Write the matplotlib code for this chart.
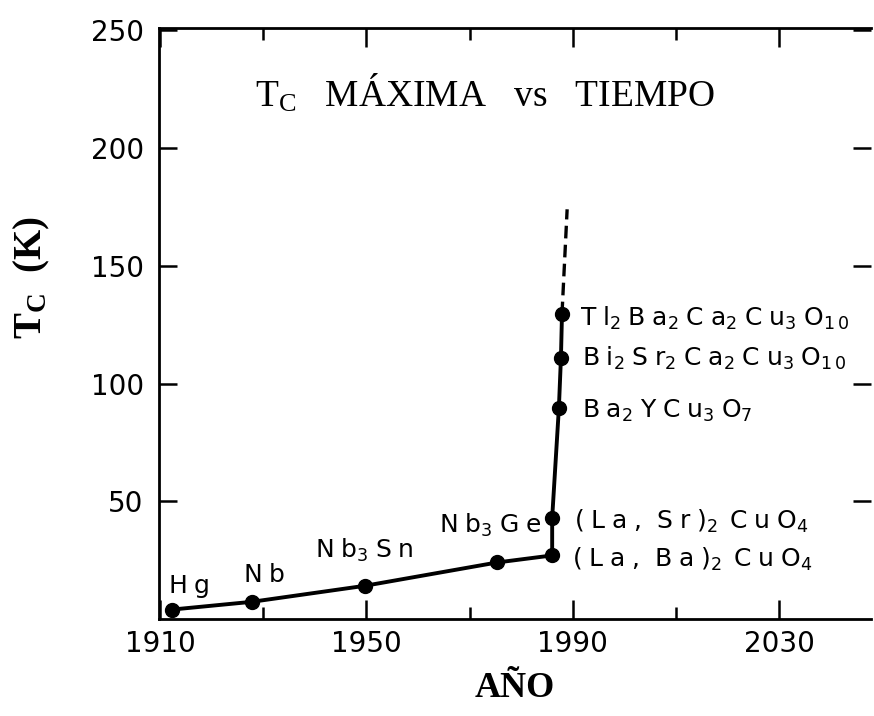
import matplotlib
matplotlib.use("Agg")
import matplotlib.pyplot as plt
from matplotlib.ticker import FixedLocator

plt.rcParams["mathtext.fontset"] = "custom"
plt.rcParams["mathtext.rm"] = "Liberation Serif"
plt.rcParams["mathtext.bf"] = "Liberation Serif:bold"
plt.rcParams["mathtext.sf"] = "DejaVu Sans"

# record critical temperature per year of discovery
years = [1912.3, 1927.8, 1949.7, 1975.3, 1986.0, 1986.0, 1987.3, 1987.7, 1987.9]
tc = [4.0, 7.3, 14.1, 24.0, 27.0, 43.0, 89.6, 111.0, 129.4]
materials = [
    "Hg",
    "Nb",
    "Nb_3Sn",
    "Nb_3Ge",
    "(La, Ba)_2 CuO_4",
    "(La, Sr)_2 CuO_4",
    "Ba_2YCu_3O_7",
    "Bi_2Sr_2Ca_2Cu_3O_{10}",
    "Tl_2Ba_2Ca_2Cu_3O_{10}",
]

# dashed extrapolation above the last point
trend_years = [1987.9, 1988.9]
trend_tc = [129.4, 174.0]

x_major = [1910, 1950, 1990, 2030]
x_minor = [1930, 1970, 2010]
y_major = [50, 100, 150, 200, 250]

# label offsets from each point, in pixels
label_offsets = [(-4, 17), (-9, 20), (-50, 28), (-58, 30), (20, -11),
                 (22, -11), (23, -10), (21, -8), (18, -11)]


def spaced(label):
    """Turn 'Nb_3Sn' into widely lettered sans mathtext."""
    tokens = []
    i = 0
    while i < len(label):
        ch = label[i]
        if ch == "_":
            if label[i + 1] == "{":
                j = label.index("}", i)
                sub = label[i + 2:j]
                i = j + 1
            else:
                sub = label[i + 1]
                i += 2
            tokens[-1] += "_{" + r"\,".join(sub) + "}"
            continue
        if ch == " ":
            tokens[-1] += r"\,"
        else:
            tokens.append(ch)
        i += 1
    return r"$\mathsf{" + r"\;".join(tokens) + "}$"


W, H = 874, 716
fig = plt.figure(figsize=(W / 100, H / 100), dpi=100)
left, right, bottom, top = 159, 871, 619, 28
ax = fig.add_axes([left / W, 1 - bottom / H, (right - left) / W, (bottom - top) / H])

ax.plot(years, tc, "-", color="black", lw=2.8, marker="o", ms=10, zorder=3)
ax.plot(trend_years, trend_tc, color="black", lw=2.4, linestyle=(0, (3.8, 1.9)))

for x, y, name, (dx, dy) in zip(years, tc, materials, label_offsets):
    ax.annotate(spaced(name), xy=(x, y), xytext=(dx, dy), textcoords="offset pixels",
                ha="left", va="baseline", fontsize=18)

ax.set_xlim(1909.8, 1910 + (right - 160) / 5.16)
ax.set_ylim(0, 251)
ax.xaxis.set_major_locator(FixedLocator(x_major))
ax.xaxis.set_minor_locator(FixedLocator(x_minor))
ax.set_yticks(y_major)

ax.tick_params(axis="x", which="major", direction="in", length=14, width=1.8,
               top=True, labelsize=20, pad=8)
ax.tick_params(axis="x", which="minor", direction="in", length=8.5, width=1.8, top=True)
ax.tick_params(axis="y", direction="in", length=13, width=1.8, right=True,
               labelsize=20, pad=11)
ax.spines["right"].set_visible(False)
for side in ["left", "bottom", "top"]:
    ax.spines[side].set_linewidth(2.0)

fig.text(255 / W, 1 - 107 / H, r"$\mathrm{T_C}$   MÁXIMA   vs   TIEMPO",
         family="Liberation Serif", fontsize=27, ha="left", va="baseline")
fig.text(515 / W, 1 - 697 / H, "AÑO", family="Liberation Serif", fontweight="bold",
         fontsize=26, ha="center", va="baseline")
fig.text(32 / W, 1 - 278 / H, r"$\mathbf{T_C}$  (K)", family="Liberation Serif",
         fontweight="bold", fontsize=28, rotation=90, ha="center", va="center")

fig.savefig("out.png", dpi=100)
